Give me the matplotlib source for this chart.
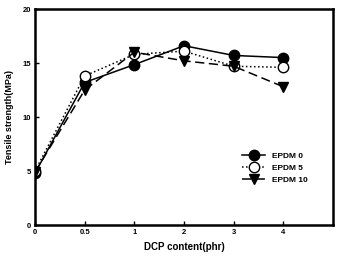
import matplotlib
matplotlib.use("Agg")
import matplotlib.pyplot as plt

# Data
dcp_labels = ["0", "0.5", "1", "2", "3", "4"]
epdm0 = [4.8, 13.2, 14.85, 16.6, 15.7, 15.5]
epdm5 = [5.0, 13.8, 15.8, 16.1, 14.7, 14.6]
epdm10 = [4.9, 12.5, 16.0, 15.2, 14.7, 12.8]

plt.rcParams["font.family"] = ["Liberation Sans", "DejaVu Sans"]
plt.rcParams["font.weight"] = "bold"

fig = plt.figure(figsize=(3.42, 2.58), dpi=100)
ax = fig.add_axes([35 / 342, 33 / 258, 298 / 342, 216 / 258])

x = list(range(len(dcp_labels)))
ax.plot(x, epdm0, "-", color="black", marker="o", markersize=7.5, lw=1.1,
        label="EPDM 0")
ax.plot(x, epdm5, ":", color="black", marker="o", markersize=7.5, lw=1.1,
        markerfacecolor="white", label="EPDM 5")
ax.plot(x, epdm10, "--", color="black", marker="v", markersize=7.5, lw=1.1,
        dashes=(6, 3), label="EPDM 10")

ax.set_xlim(0, 6)
ax.set_ylim(0, 20)
ax.set_xticks(x)
ax.set_xticklabels(dcp_labels)
ax.set_yticks([0, 5, 10, 15, 20])
ax.tick_params(direction="in", length=3, width=1, labelsize=5.5, pad=3)
for s in ax.spines.values():
    s.set_linewidth(1.8)

ax.set_xlabel("DCP content(phr)", fontsize=7, fontweight="bold", labelpad=4)
ax.set_ylabel("Tensile strength(MPa)", fontsize=6.5, fontweight="bold", labelpad=6)

leg = ax.legend(loc="upper left", bbox_to_anchor=(0.67, 0.37), frameon=False,
                fontsize=6, handlelength=2.8, labelspacing=0.5,
                handletextpad=0.8)

fig.savefig("out.png", dpi=100)
